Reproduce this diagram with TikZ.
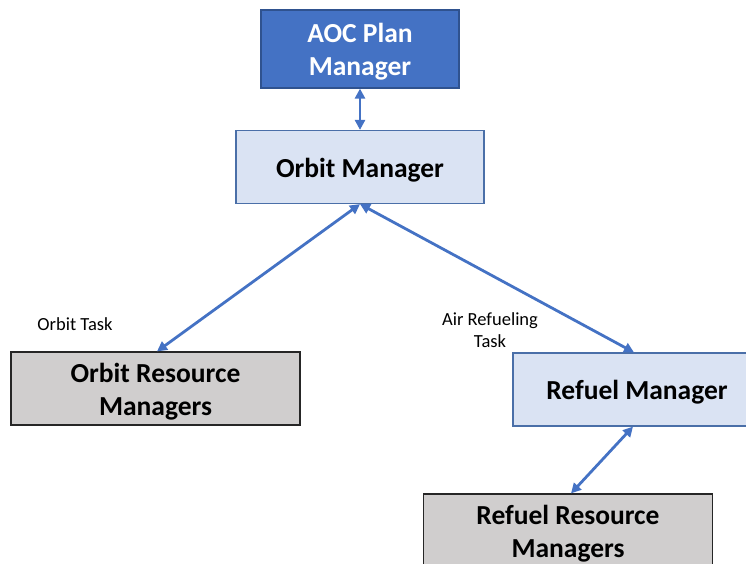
\documentclass[tikz,border=0pt]{standalone}
\usepackage{fontspec}
\setmainfont{Carlito}
\usetikzlibrary{arrows.meta}
\definecolor{aocfill}{HTML}{4472C4}
\definecolor{aocline}{HTML}{2F528F}
\definecolor{mgrfill}{HTML}{DAE3F3}
\definecolor{mgrline}{HTML}{4A6FA8}
\definecolor{resfill}{HTML}{D0CECE}
\definecolor{resline}{HTML}{262626}
\definecolor{link}{HTML}{4472C4}
\tikzset{
  boxtext/.style={align=center, yshift=-3pt,
    font=\fontsize{27.5}{33}\selectfont\bfseries},
  box/.style={draw, line width=1.2pt, inner sep=0pt},
  planbox/.style={box, fill=aocfill, draw=aocline,
    minimum width=198pt, minimum height=78pt},
  mgrbox/.style={box, fill=mgrfill, draw=mgrline,
    minimum width=248pt, minimum height=73pt},
  resbox/.style={box, fill=resfill, draw=resline,
    minimum width=289pt, minimum height=73pt},
  biarrow/.style={draw=link, line width=2.8pt,
    {Triangle[length=10pt,width=10pt]}-{Triangle[length=10pt,width=10pt]}},
  tasklabel/.style={font=\fontsize{18.5}{22}\selectfont, align=center}
}
\begin{document}
\begin{tikzpicture}[x=1pt,y=-1pt]
  \useasboundingbox (0,0) rectangle (746,563);
  \clip (0,0) rectangle (746,563);

  \node[planbox, label={[boxtext, text=white]center:AOC Plan\\Manager}] (aoc) at (360,49) {};
  \node[mgrbox, label={[boxtext]center:Orbit Manager}] (orbit) at (360,167) {};
  \node[resbox, label={[boxtext]center:Orbit Resource\\Managers}] (orbres) at (155.5,388.5) {};
  \node[mgrbox, label={[boxtext]center:Refuel Manager}] (refuel) at (637,389.5) {};
  \node[resbox, label={[boxtext]center:Refuel Resource\\Managers}] (refres) at (568,530.5) {};

  \node[tasklabel] (orbitlabel) at (75,324) {Orbit Task};
  \node[tasklabel] (refuellabel) at (490,330) {Air Refueling\\Task};

  \draw[biarrow] (aoc.south) -- (orbit.north);
  \draw[biarrow] (orbit.south) -- ([xshift=1.5pt]orbres.north);
  \draw[biarrow] (orbit.south) -- ([xshift=-3pt]refuel.north);
  \draw[biarrow] ([xshift=-4pt]refuel.south) -- ([xshift=3pt]refres.north);
\end{tikzpicture}
\end{document}
